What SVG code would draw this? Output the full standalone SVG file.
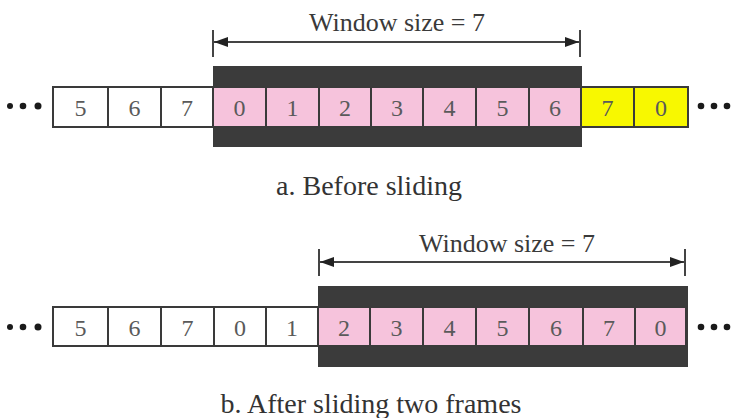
<svg xmlns="http://www.w3.org/2000/svg" width="732" height="418" viewBox="0 0 732 418">
  <style>
    .cell { stroke: #3a3a3a; stroke-width: 2; }
    .plain { fill: #ffffff; }
    .win { fill: #f6c3dc; }
    .next { fill: #f8f800; }
    .frame { fill: #3b3b3b; }
    .num { font-family: "Liberation Serif", "Times New Roman", serif; font-size: 24px; fill: #5a5a5a; text-anchor: middle; }
    .cap { font-family: "Liberation Serif", "Times New Roman", serif; font-size: 28px; fill: #333333; text-anchor: middle; }
    .lbl { font-family: "Liberation Serif", "Times New Roman", serif; font-size: 26px; fill: #3a3a3a; text-anchor: middle; }
    .dim { stroke: #444444; stroke-width: 2; fill: none; }
    .dot { fill: #1a1a1a; }
  </style>
  <defs>
    <marker id="ah" viewBox="0 0 14 10" refX="14" refY="5" markerWidth="14" markerHeight="10" markerUnits="userSpaceOnUse" orient="auto-start-reverse">
      <path d="M0,0 L14,5 L0,10 Z" fill="#222222"/>
    </marker>
  </defs>

  <!-- ===== a. Before sliding ===== -->
  <g id="windowA">
    <rect class="frame" x="213" y="66" width="369" height="81"/>
  </g>
  <g id="rowA">
    <g id="a-c0"><rect class="cell plain" x="53" y="87" width="55" height="40"/><text class="num" x="80.5" y="116">5</text></g>
    <g id="a-c1"><rect class="cell plain" x="108" y="87" width="53" height="40"/><text class="num" x="134.5" y="116">6</text></g>
    <g id="a-c2"><rect class="cell plain" x="161" y="87" width="52" height="40"/><text class="num" x="187" y="116">7</text></g>
    <g id="a-c3"><rect class="cell win" x="213" y="87" width="53" height="40"/><text class="num" x="239.5" y="116">0</text></g>
    <g id="a-c4"><rect class="cell win" x="266" y="87" width="53" height="40"/><text class="num" x="292.5" y="116">1</text></g>
    <g id="a-c5"><rect class="cell win" x="319" y="87" width="52" height="40"/><text class="num" x="345" y="116">2</text></g>
    <g id="a-c6"><rect class="cell win" x="371" y="87" width="52" height="40"/><text class="num" x="397" y="116">3</text></g>
    <g id="a-c7"><rect class="cell win" x="423" y="87" width="53" height="40"/><text class="num" x="449.5" y="116">4</text></g>
    <g id="a-c8"><rect class="cell win" x="476" y="87" width="53" height="40"/><text class="num" x="502.5" y="116">5</text></g>
    <g id="a-c9"><rect class="cell win" x="529" y="87" width="52" height="40"/><text class="num" x="555" y="116">6</text></g>
    <g id="a-c10"><rect class="cell next" x="581" y="87" width="53" height="40"/><text class="num" x="607.5" y="116">7</text></g>
    <g id="a-c11"><rect class="cell next" x="634" y="87" width="54" height="40"/><text class="num" x="661" y="116">0</text></g>
  </g>
  <g id="dotsA">
    <circle class="dot" cx="10" cy="106" r="3"/>
    <circle class="dot" cx="23" cy="106" r="3.3"/>
    <circle class="dot" cx="38" cy="106" r="3.5"/>
    <circle class="dot" cx="701" cy="106" r="3.3"/>
    <circle class="dot" cx="714" cy="106" r="3.3"/>
    <circle class="dot" cx="727" cy="106" r="3.3"/>
  </g>
  <text class="lbl" x="397" y="31">Window size = 7</text>
  <text class="cap" x="369" y="195">a. Before sliding</text>

  <!-- ===== b. After sliding two frames ===== -->
  <g id="windowB">
    <rect class="frame" x="318" y="286" width="370" height="81"/>
  </g>
  <g id="rowB">
    <g id="b-c0"><rect class="cell plain" x="53" y="307" width="55" height="39"/><text class="num" x="80.5" y="336">5</text></g>
    <g id="b-c1"><rect class="cell plain" x="108" y="307" width="53" height="39"/><text class="num" x="134.5" y="336">6</text></g>
    <g id="b-c2"><rect class="cell plain" x="161" y="307" width="53" height="39"/><text class="num" x="187.5" y="336">7</text></g>
    <g id="b-c3"><rect class="cell plain" x="214" y="307" width="52" height="39"/><text class="num" x="240" y="336">0</text></g>
    <g id="b-c4"><rect class="cell plain" x="266" y="307" width="52" height="39"/><text class="num" x="292" y="336">1</text></g>
    <g id="b-c5"><rect class="cell win" x="318" y="307" width="52" height="39"/><text class="num" x="344" y="336">2</text></g>
    <g id="b-c6"><rect class="cell win" x="370" y="307" width="53" height="39"/><text class="num" x="396.5" y="336">3</text></g>
    <g id="b-c7"><rect class="cell win" x="423" y="307" width="53" height="39"/><text class="num" x="449.5" y="336">4</text></g>
    <g id="b-c8"><rect class="cell win" x="476" y="307" width="53" height="39"/><text class="num" x="502.5" y="336">5</text></g>
    <g id="b-c9"><rect class="cell win" x="529" y="307" width="54" height="39"/><text class="num" x="556" y="336">6</text></g>
    <g id="b-c10"><rect class="cell win" x="583" y="307" width="52" height="39"/><text class="num" x="609" y="336">7</text></g>
    <g id="b-c11"><rect class="cell win" x="635" y="307" width="51" height="39"/><text class="num" x="660.5" y="336">0</text></g>
  </g>
  <g id="dotsB">
    <circle class="dot" cx="10" cy="327" r="3"/>
    <circle class="dot" cx="23" cy="327" r="3.3"/>
    <circle class="dot" cx="38" cy="327" r="3.5"/>
    <circle class="dot" cx="701" cy="327" r="3.3"/>
    <circle class="dot" cx="714" cy="327" r="3.3"/>
    <circle class="dot" cx="727" cy="327" r="3.3"/>
  </g>
  <text class="lbl" x="507" y="252">Window size = 7</text>
  <text class="cap" x="371" y="413">b. After sliding two frames</text>

  <!-- dimension arrows marking the window span -->
  <g id="connectors">
    <line class="dim" x1="213" y1="30" x2="213" y2="57"/>
    <line class="dim" x1="580" y1="30" x2="580" y2="57"/>
    <line class="dim" x1="214" y1="42" x2="579" y2="42" marker-start="url(#ah)" marker-end="url(#ah)"/>
    <line class="dim" x1="319" y1="249" x2="319" y2="276"/>
    <line class="dim" x1="685" y1="249" x2="685" y2="276"/>
    <line class="dim" x1="320" y1="262" x2="684" y2="262" marker-start="url(#ah)" marker-end="url(#ah)"/>
  </g>
</svg>
